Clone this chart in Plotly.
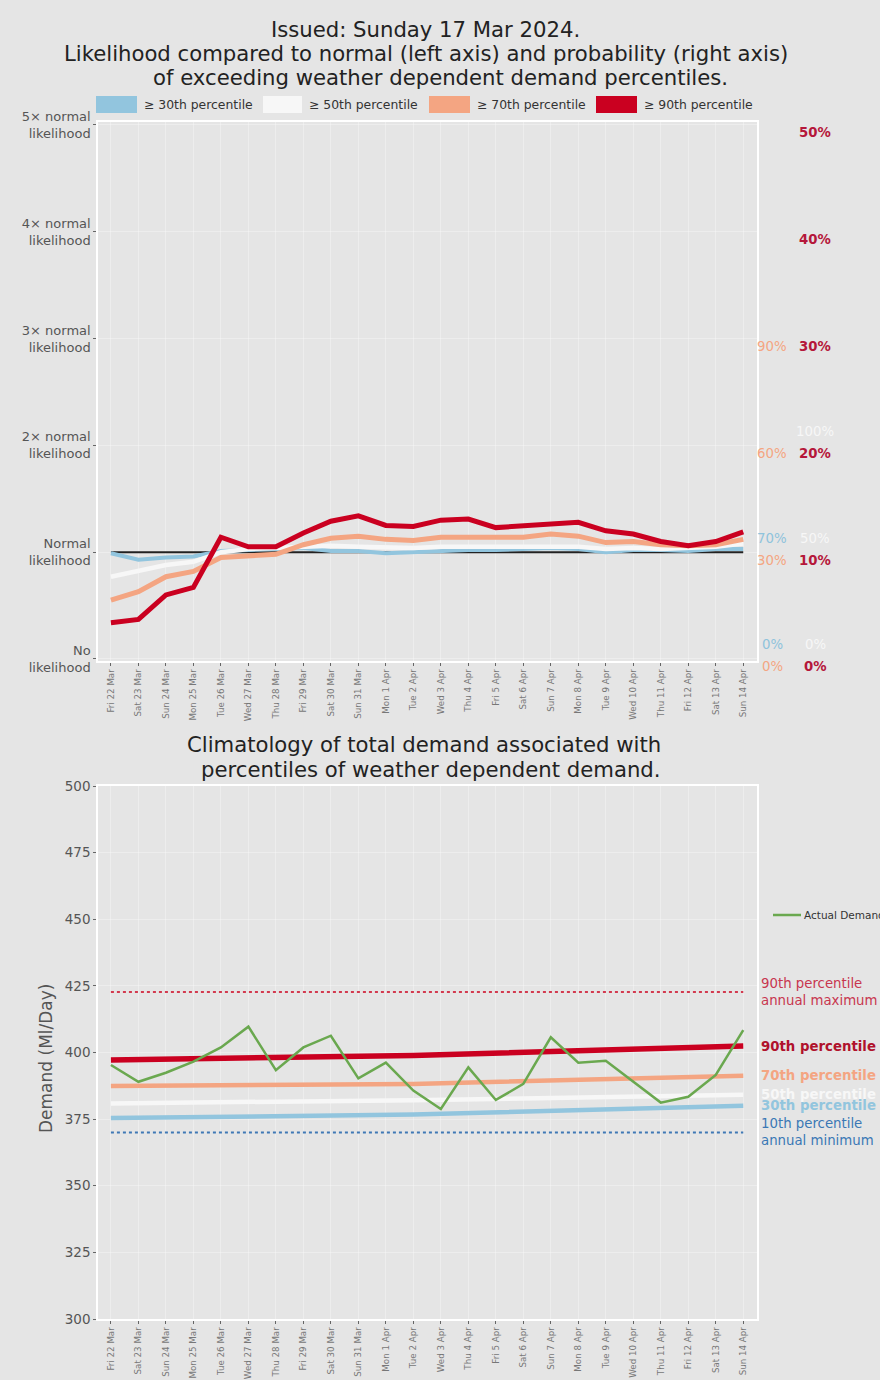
import plotly.graph_objects as go

W, H = 880, 1380

dates = ["Fri 22 Mar", "Sat 23 Mar", "Sun 24 Mar", "Mon 25 Mar", "Tue 26 Mar",
         "Wed 27 Mar", "Thu 28 Mar", "Fri 29 Mar", "Sat 30 Mar", "Sun 31 Mar",
         "Mon 1 Apr", "Tue 2 Apr", "Wed 3 Apr", "Thu 4 Apr", "Fri 5 Apr",
         "Sat 6 Apr", "Sun 7 Apr", "Mon 8 Apr", "Tue 9 Apr", "Wed 10 Apr",
         "Thu 11 Apr", "Fri 12 Apr", "Sat 13 Apr", "Sun 14 Apr"]

# likelihood of exceeding each percentile, relative to normal (1 = normal)
ratio_p30 = [0.99, 0.93, 0.95, 0.96, 1.01, 1.02, 1.03, 1.04, 1.01, 1.01, 0.99, 1.00,
             1.01, 1.02, 1.02, 1.03, 1.04, 1.03, 1.00, 1.02, 1.02, 1.01, 1.03, 1.03]
ratio_p50 = [0.77, 0.83, 0.88, 0.91, 1.00, 1.03, 1.04, 1.06, 1.06, 1.05, 1.04, 1.04,
             1.05, 1.05, 1.05, 1.06, 1.06, 1.05, 1.03, 1.04, 1.03, 1.04, 1.05, 1.08]
ratio_p70 = [0.55, 0.63, 0.77, 0.82, 0.95, 0.96, 0.98, 1.07, 1.13, 1.15, 1.12, 1.11,
             1.14, 1.14, 1.14, 1.14, 1.17, 1.15, 1.09, 1.10, 1.07, 1.06, 1.07, 1.12]
ratio_p90 = [0.34, 0.37, 0.60, 0.67, 1.14, 1.05, 1.05, 1.18, 1.29, 1.34, 1.25, 1.24,
             1.30, 1.31, 1.23, 1.25, 1.27, 1.28, 1.20, 1.17, 1.10, 1.06, 1.10, 1.19]
normal_dates = [dates[0], dates[-1]]
normal_level = [1, 1]

likelihood_ticks = [0, 1, 2, 3, 4, 5]
likelihood_labels = ["No<br>likelihood", "Normal<br>likelihood", "2× normal<br>likelihood",
                     "3× normal<br>likelihood", "4× normal<br>likelihood",
                     "5× normal<br>likelihood"]

# probability scales on the right, one per percentile (label at each likelihood level)
prob_p30 = ["0%", "70%"]
prob_p50 = ["0%", "50%", "100%"]
prob_p70 = ["0%", "30%", "60%", "90%"]
prob_p90 = ["0%", "10%", "20%", "30%", "40%", "50%"]

# demand climatology (Ml/Day)
demand_actual = [395.3, 389.0, 392.4, 396.6, 401.9, 409.7, 393.4, 401.9, 406.3, 390.3,
                 396.2, 385.7, 378.8, 394.4, 382.2, 388.2, 405.7, 396.2, 396.9, 389.0,
                 381.2, 383.4, 391.6, 408.4]
clim_dates = [dates[0], dates[11], dates[-1]]
clim_p90 = [397.2, 398.9, 402.4]
clim_p70 = [387.4, 388.2, 391.3]
clim_p50 = [380.9, 382.1, 384.1]
clim_p30 = [375.4, 376.7, 380.0]
annual_max_p90 = [422.7, 422.7]
annual_min_p10 = [370.0, 370.0]
demand_ticks = [300, 325, 350, 375, 400, 425, 450, 475, 500]

RED, ORANGE, WHITE, BLUE = "#ca0020", "#f4a582", "#f7f7f7", "#92c5de"
BG = "#e5e5e5"
FONT = "DejaVu Sans"


def px(x):
    return x / W


def py(y):
    return 1 - y / H


fig = go.Figure()

# ---- top panel: likelihood relative to normal ----
fig.add_trace(go.Scatter(x=normal_dates, y=normal_level, mode="lines",
                         line=dict(color="#222222", width=2), xaxis="x", yaxis="y"))
for vals, col, w in [(ratio_p30, BLUE, 4), (ratio_p50, WHITE, 4.5),
                     (ratio_p70, ORANGE, 5), (ratio_p90, RED, 5)]:
    fig.add_trace(go.Scatter(x=dates, y=vals, mode="lines",
                             line=dict(color=col, width=w), xaxis="x", yaxis="y"))

# ---- bottom panel: demand climatology ----
fig.add_trace(go.Scatter(x=normal_dates, y=annual_max_p90, mode="lines",
                         line=dict(color="#d33a4f", width=2, dash="dot"),
                         xaxis="x2", yaxis="y2"))
fig.add_trace(go.Scatter(x=normal_dates, y=annual_min_p10, mode="lines",
                         line=dict(color="#3f78b5", width=2, dash="dot"),
                         xaxis="x2", yaxis="y2"))
for vals, col, w in [(clim_p30, BLUE, 4.5), (clim_p50, WHITE, 4.5),
                     (clim_p70, ORANGE, 4.5), (clim_p90, RED, 5.5)]:
    fig.add_trace(go.Scatter(x=clim_dates, y=vals, mode="lines",
                             line=dict(color=col, width=w), xaxis="x2", yaxis="y2"))
fig.add_trace(go.Scatter(x=dates, y=demand_actual, mode="lines",
                         line=dict(color="#6aa84f", width=2.5), xaxis="x2", yaxis="y2"))

axis_common = dict(showline=True, mirror=True, linecolor="white", linewidth=1.5,
                   gridcolor="rgba(255,255,255,0.3)", gridwidth=1, zeroline=False,
                   ticks="outside", ticklen=3, tickcolor="#666666")

xcommon = dict(axis_common, type="category", categoryorder="array", categoryarray=dates,
               tickvals=dates, ticktext=dates, tickangle=-90, range=[-0.47, 23.5],
               tickfont=dict(family=FONT, size=8.7, color="#777777"))

fig.update_layout(
    width=W, height=H, autosize=False, showlegend=False,
    margin=dict(l=0, r=0, t=0, b=0, autoexpand=False),
    paper_bgcolor=BG, plot_bgcolor=BG,
    font=dict(family=FONT, color="#333333"),
    xaxis=dict(xcommon, domain=[px(98), px(757)], anchor="y"),
    yaxis=dict(axis_common, domain=[py(661), py(122)], anchor="x",
               range=[-0.019, 5.028], tickvals=likelihood_ticks,
               ticktext=likelihood_labels,
               tickfont=dict(family=FONT, size=13, color="#555555")),
    xaxis2=dict(xcommon, domain=[px(98), px(757)], anchor="y2"),
    yaxis2=dict(axis_common, domain=[py(1319), py(786)], anchor="x2",
                range=[300, 500], tickvals=demand_ticks,
                tickfont=dict(family=FONT, size=13.5, color="#555555")),
)

ann = []


def text(x, y, s, size, color="#222222", xanchor="center", **kw):
    ann.append(dict(x=px(x), y=py(y), xref="paper", yref="paper", text=s,
                    showarrow=False, xanchor=xanchor, yanchor="middle",
                    font=dict(family=FONT, size=size, color=color), **kw))


# titles
text(425, 30, "Issued: Sunday 17 Mar 2024.", 21.2)
text(426, 53, "Likelihood compared to normal (left axis) and probability (right axis)", 21.2)
text(440, 77, "of exceeding weather dependent demand percentiles.", 21.2)
text(424, 745, "Climatology of total demand associated with", 21.2)
text(431, 769, "percentiles of weather dependent demand.", 21.2)
text(46, 1059, "Demand (Ml/Day)", 17, "#555555", textangle=-90)

# top legend
shapes = []
legend_items = [(96, 137, BLUE, "≥ 30th percentile"), (263, 302, WHITE, "≥ 50th percentile"),
                (429, 470, ORANGE, "≥ 70th percentile"), (596, 637, RED, "≥ 90th percentile")]
for x0, x1, col, lab in legend_items:
    shapes.append(dict(type="rect", xref="paper", yref="paper", x0=px(x0), x1=px(x1),
                       y0=py(113), y1=py(96), fillcolor=col, line=dict(width=0)))
    text(x1 + 5, 104, lab, 12.4, "#333333", xanchor="left")

# right-hand probability scales
prob_cols = [(prob_p30, "#8fc3dc", 772, -14, False), (prob_p50, "#f7f7f7", 815, -14, False),
             (prob_p70, "#f4a582", 772, 8, False), (prob_p90, "#b5173a", 815, 8, True)]
for labels, col, xc, shift, bold in prob_cols:
    for lvl, lab in enumerate(labels):
        ann.append(dict(x=px(xc), y=likelihood_ticks[lvl], xref="paper", yref="y",
                        text=f"<b>{lab}</b>" if bold else lab, showarrow=False,
                        xanchor="center", yanchor="middle", yshift=-shift,
                        font=dict(family=FONT, size=13.3, color=col)))

# bottom line labels
bottom_labels = [(annual_max_p90[-1], "90th percentile<br>annual maximum", "#c8364f", False),
                 (clim_p90[-1], "90th percentile", "#b0122c", True),
                 (clim_p70[-1], "70th percentile", ORANGE, True),
                 (clim_p50[-1], "50th percentile", WHITE, True),
                 (clim_p30[-1], "30th percentile", BLUE, True),
                 (annual_min_p10[-1], "10th percentile<br>annual minimum", "#3a78b5", False)]
for val, lab, col, bold in bottom_labels:
    ann.append(dict(x=px(759), y=val, xref="paper", yref="y2",
                    text=f"<b>{lab}</b>" if bold else lab, showarrow=False,
                    xanchor="left", yanchor="middle", align="left",
                    font=dict(family=FONT, size=13.3, color=col)))

# actual demand key
shapes.append(dict(type="line", xref="paper", yref="paper", x0=px(773), x1=px(801),
                   y0=py(915), y1=py(915), line=dict(color="#6aa84f", width=2.5)))
text(802, 915, "Actual Demand", 10.5, "#333333", xanchor="left")

fig.update_layout(annotations=ann, shapes=shapes)
fig.write_html("out.html")
